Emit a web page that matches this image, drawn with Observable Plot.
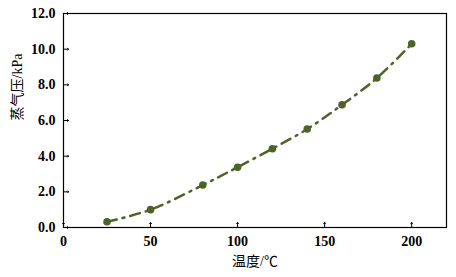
<!DOCTYPE html>
<html><head><meta charset="utf-8">
<script src="https://cdn.jsdelivr.net/npm/d3@7"></script>
<script src="https://cdn.jsdelivr.net/npm/@observablehq/plot@0.6"></script>
<style>
body{margin:0;background:#fff;}
svg text{font-family:"Liberation Serif","Noto Sans CJK SC",serif;}
</style>
</head><body>
<div id="chart"></div>
<script>
const temperature = [25, 50, 80, 100, 120, 140, 160, 180, 200];
const pressure = [0.32, 1.0, 2.38, 3.38, 4.42, 5.52, 6.88, 8.38, 10.3];
const xTicks = [0, 50, 100, 150, 200];
const yTicks = [0, 2, 4, 6, 8, 10, 12];
const xLabel = "温度/℃";
const yLabel = "蒸气压/kPa";

const data = temperature.map((t, i) => ({t, p: pressure[i]}));
const color = "#4f6228";
const serif = "'Liberation Serif', 'Noto Sans CJK SC', serif";

const chart = Plot.plot({
  width: 456,
  height: 277,
  marginLeft: 63,
  marginRight: 10,
  marginTop: 13,
  marginBottom: 50,
  style: {fontFamily: serif, background: "#fff"},
  x: {domain: [0, 220]},
  y: {domain: [0, 12]},
  marks: [
    Plot.axisX({ticks: xTicks, tickSize: 0, tickPadding: 9, fontSize: 14, fontWeight: "bold", fontFamily: serif, fill: "#000", label: null}),
    Plot.axisY({ticks: yTicks, tickSize: 0, tickPadding: 8, fontSize: 14, fontWeight: "bold", fontFamily: serif, fill: "#000", tickFormat: d => d.toFixed(1), label: null}),
    Plot.vector(yTicks, {x: 0, y: d => d, length: 5, rotate: 90, anchor: "start", stroke: "#000", strokeWidth: 1}),
    Plot.vector(xTicks, {x: d => d, y: 0, length: 5, rotate: 0, anchor: "start", stroke: "#000", strokeWidth: 1}),
    Plot.line(data, {x: "t", y: "p", curve: "catmull-rom", stroke: color, strokeWidth: 2.5, strokeDasharray: "10,6,2,6"}),
    Plot.dot(data, {x: "t", y: "p", r: 3.8, fill: color, stroke: "none"}),
    Plot.frame({stroke: "#000", strokeWidth: 1.2}),
    Plot.text([xLabel], {frameAnchor: "bottom", dy: 38, fontSize: 14, fill: "#000", fontFamily: serif}),
    Plot.text([yLabel], {frameAnchor: "left", dx: -46, rotate: -90, fontSize: 14, fill: "#000", fontFamily: serif})
  ]
});
document.getElementById("chart").appendChild(chart);
</script>
</body></html>
